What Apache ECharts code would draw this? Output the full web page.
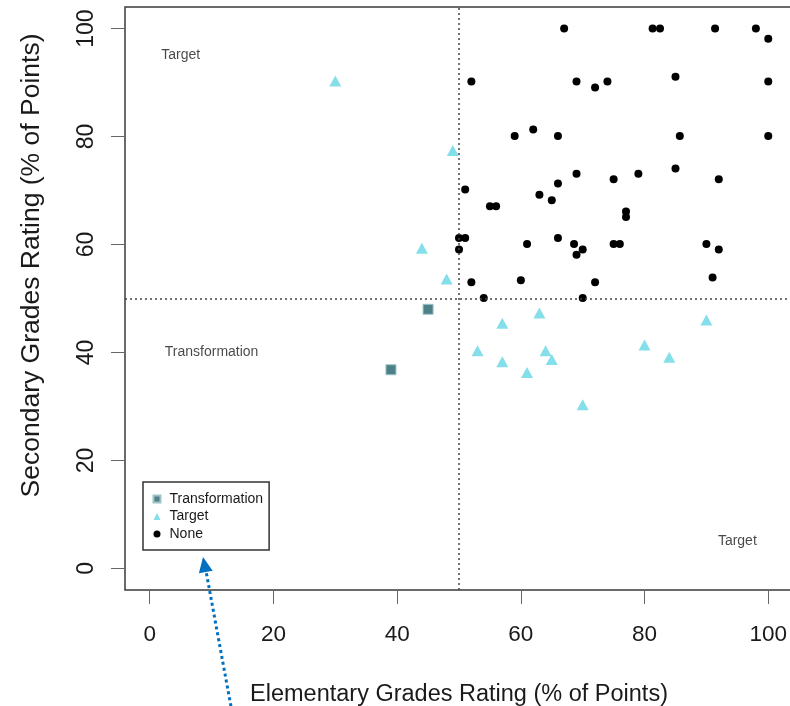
<!DOCTYPE html>
<html>
<head>
<meta charset="utf-8">
<script src="https://cdn.jsdelivr.net/npm/echarts@6/dist/echarts.min.js"></script>
<style>
html,body{margin:0;padding:0;background:#fff;}
#chart{width:790px;height:706px;}
</style>
</head>
<body>
<div id="chart"></div>
<script>
// ---- data ----
const seriesNames = ['Transformation', 'Target', 'None'];

const transX = [45, 39];
const transY = [48, 36.8];

const targetX = [30, 49, 44, 48, 63, 57, 90, 53, 64, 65, 57, 61, 80, 84, 70];
const targetY = [90.3, 77.4, 59.3, 53.6, 47.3, 45.4, 46, 40.3, 40.3, 38.7, 38.3, 36.3, 41.4, 39.1, 30.3];

const noneX = [67, 81.3, 82.5, 91.4, 98, 100,
               52, 69, 72, 74, 85, 100,
               59, 62, 66, 85.7, 100,
               69, 66, 75, 79, 85, 92,
               51, 63, 65, 55, 56, 77, 77,
               50, 51, 50, 61, 66, 68.6, 70, 69, 75, 76, 90, 92,
               52, 60, 72, 91,
               54, 70];
const noneY = [100, 100, 100, 100, 100, 98.1,
               90.2, 90.2, 89.1, 90.2, 91.1, 90.2,
               80.1, 81.3, 80.1, 80.1, 80.1,
               73.1, 71.3, 72.1, 73.1, 74.1, 72.1,
               70.2, 69.2, 68.2, 67.1, 67.1, 66.1, 65.1,
               61.2, 61.2, 59.1, 60.1, 61.2, 60.1, 59.1, 58.1, 60.1, 60.1, 60.1, 59.1,
               53, 53.4, 53, 53.9,
               50.1, 50.1];

const xTicks = [0, 20, 40, 60, 80, 100];
const yTicks = [0, 20, 40, 60, 80, 100];
const cutX = 50;
const cutY = 50;

const annoText = ['Target', 'Transformation', 'Target'];
const annoX = [5, 10, 95];
const annoY = [95, 40, 5];

const xTitle = 'Elementary Grades Rating (% of Points)';
const yTitle = 'Secondary Grades Rating (% of Points)';

// ---- chart ----
const zip = (xs, ys) => xs.map((x, i) => [x, ys[i]]);
const FONT = 'Liberation Sans, Arial, sans-serif';
const chart = echarts.init(document.getElementById('chart'), null, {renderer: 'canvas'});

const axisCommon = {
  type: 'value',
  min: -4, max: 104,
  splitLine: {show: false},
  axisLine: {show: false, onZero: false}
};

chart.setOption({
  animation: false,
  backgroundColor: '#fff',
  grid: {
    left: 125, top: 7, width: 668, height: 583,
    containLabel: false, outerBoundsMode: 'none',
    show: true, borderColor: '#3a3a3a', borderWidth: 1.5, backgroundColor: 'transparent'
  },
  xAxis: Object.assign({}, axisCommon, {
    axisTick: {show: true, inside: false, customValues: xTicks, length: 14, lineStyle: {color: '#666', width: 1}},
    axisLabel: {customValues: xTicks, fontSize: 22.5, fontFamily: FONT, color: '#1a1a1a', margin: 33},
    name: xTitle, nameLocation: 'middle', nameGap: 93,
    nameTextStyle: {fontSize: 23.5, fontFamily: FONT, color: '#1a1a1a'}
  }),
  yAxis: Object.assign({}, axisCommon, {
    axisTick: {show: true, inside: false, customValues: yTicks, length: 14, lineStyle: {color: '#666', width: 1}},
    axisLabel: {customValues: yTicks, fontSize: 23, fontFamily: FONT, color: '#1a1a1a', margin: 27, rotate: 90},
    name: yTitle, nameLocation: 'middle', nameGap: 80,
    nameTextStyle: {fontSize: 26.5, fontFamily: FONT, color: '#1a1a1a', padding: [0, 0, 0, 66]}
  }),
  legend: {
    orient: 'vertical',
    left: 143, top: 482,
    data: [
      {name: seriesNames[0], icon: 'rect'},
      {name: seriesNames[1], icon: 'triangle'},
      {name: seriesNames[2], icon: 'circle'}
    ],
    itemWidth: 7, itemHeight: 7, itemGap: 3.5,
    padding: [10, 6, 9, 9.5],
    borderColor: '#333', borderWidth: 1.5,
    textStyle: {fontSize: 14, lineHeight: 14, fontFamily: FONT, color: '#1a1a1a', padding: [0, 0, 0, 4]}
  },
  series: [
    {
      name: seriesNames[2], type: 'scatter', symbol: 'circle', symbolSize: 8,
      itemStyle: {color: '#000', opacity: 1},
      data: zip(noneX, noneY),
      z: 3,
      markLine: {
        silent: true, symbol: ['none', 'none'], label: {show: false},
        lineStyle: {type: [2, 3], color: '#444', width: 1.5},
        data: [{xAxis: cutX}, {yAxis: cutY}]
      }
    },
    {
      name: seriesNames[1], type: 'scatter', symbol: 'triangle', symbolSize: [12, 11],
      itemStyle: {color: '#84DFEA', opacity: 1},
      data: zip(targetX, targetY),
      z: 3
    },
    {
      name: seriesNames[0], type: 'scatter', symbol: 'rect', symbolSize: 10,
      itemStyle: {color: '#4E8088', borderColor: '#9DC3C7', borderWidth: 1, opacity: 1},
      data: zip(transX, transY),
      z: 3
    },
    {
      name: 'annotations', type: 'scatter', symbolSize: 0, silent: true,
      data: annoX.map((x, i) => [x, annoY[i], annoText[i]]),
      label: {
        show: true, position: 'inside', fontSize: 14, fontFamily: FONT, color: '#1a1a1a',
        formatter: p => p.value[2]
      }
    }
  ],
  graphic: [
    {
      type: 'line', silent: true,
      shape: {x1: 232, y1: 712, x2: 206, y2: 571},
      style: {stroke: '#0070C0', lineWidth: 3, lineDash: [3, 3]}
    },
    {
      type: 'polygon', silent: true,
      shape: {points: [[203, 557], [198.9, 573.2], [212.7, 570.8]]},
      style: {fill: '#0070C0'}
    }
  ]
});
</script>
</body>
</html>
